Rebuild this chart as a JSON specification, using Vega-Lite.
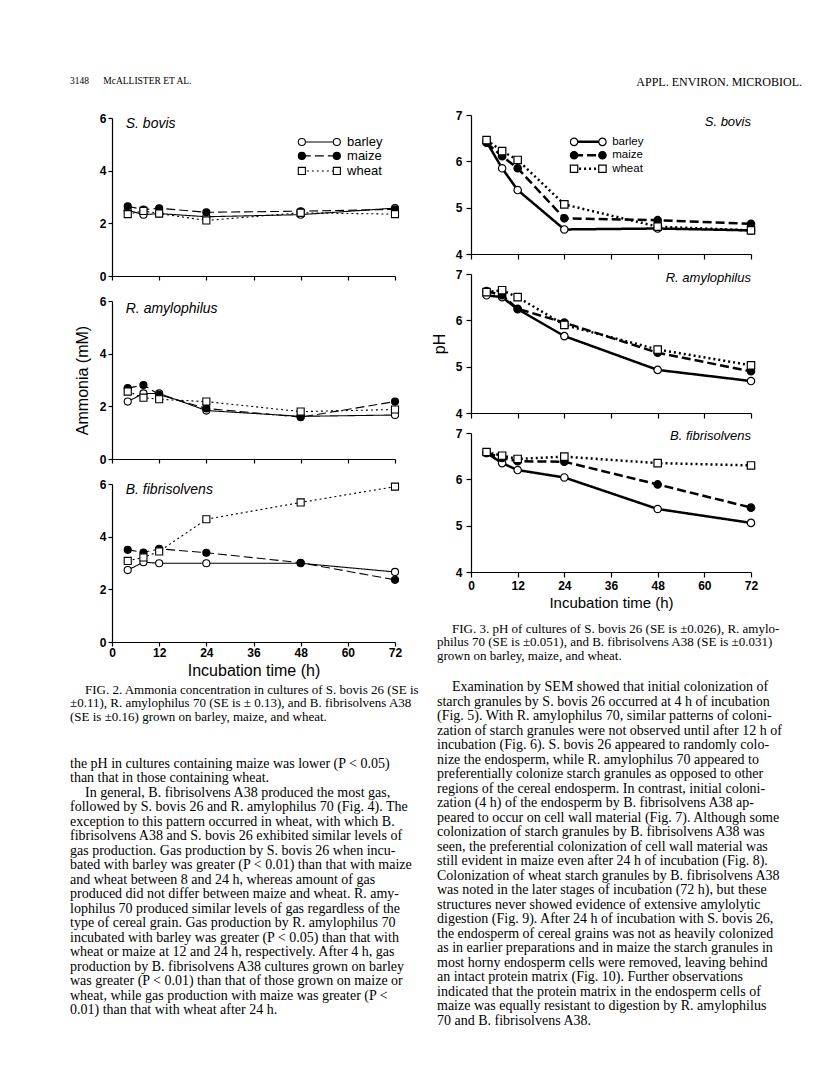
{
  "$schema": "https://vega.github.io/schema/vega-lite/v6.json",
  "background": "white",
  "padding": {"left": 70, "top": 68, "right": 5, "bottom": 5},
  "datasets": {
    "fig2": [
      {"org": "S. bovis", "grain": "barley", "time": 4, "v": 2.50},
      {"org": "S. bovis", "grain": "barley", "time": 8, "v": 2.33},
      {"org": "S. bovis", "grain": "barley", "time": 12, "v": 2.37},
      {"org": "S. bovis", "grain": "barley", "time": 24, "v": 2.25},
      {"org": "S. bovis", "grain": "barley", "time": 48, "v": 2.33},
      {"org": "S. bovis", "grain": "barley", "time": 72, "v": 2.58},
      {"org": "S. bovis", "grain": "maize", "time": 4, "v": 2.65},
      {"org": "S. bovis", "grain": "maize", "time": 8, "v": 2.52},
      {"org": "S. bovis", "grain": "maize", "time": 12, "v": 2.57},
      {"org": "S. bovis", "grain": "maize", "time": 24, "v": 2.42},
      {"org": "S. bovis", "grain": "maize", "time": 48, "v": 2.46},
      {"org": "S. bovis", "grain": "maize", "time": 72, "v": 2.53},
      {"org": "S. bovis", "grain": "wheat", "time": 4, "v": 2.35},
      {"org": "S. bovis", "grain": "wheat", "time": 8, "v": 2.47},
      {"org": "S. bovis", "grain": "wheat", "time": 12, "v": 2.37},
      {"org": "S. bovis", "grain": "wheat", "time": 24, "v": 2.11},
      {"org": "S. bovis", "grain": "wheat", "time": 48, "v": 2.40},
      {"org": "S. bovis", "grain": "wheat", "time": 72, "v": 2.35},
      {"org": "R. amylophilus", "grain": "barley", "time": 4, "v": 2.18},
      {"org": "R. amylophilus", "grain": "barley", "time": 8, "v": 2.49},
      {"org": "R. amylophilus", "grain": "barley", "time": 12, "v": 2.49},
      {"org": "R. amylophilus", "grain": "barley", "time": 24, "v": 1.84},
      {"org": "R. amylophilus", "grain": "barley", "time": 48, "v": 1.62},
      {"org": "R. amylophilus", "grain": "barley", "time": 72, "v": 1.67},
      {"org": "R. amylophilus", "grain": "maize", "time": 4, "v": 2.69},
      {"org": "R. amylophilus", "grain": "maize", "time": 8, "v": 2.81},
      {"org": "R. amylophilus", "grain": "maize", "time": 12, "v": 2.44},
      {"org": "R. amylophilus", "grain": "maize", "time": 24, "v": 1.92},
      {"org": "R. amylophilus", "grain": "maize", "time": 48, "v": 1.59},
      {"org": "R. amylophilus", "grain": "maize", "time": 72, "v": 2.18},
      {"org": "R. amylophilus", "grain": "wheat", "time": 4, "v": 2.56},
      {"org": "R. amylophilus", "grain": "wheat", "time": 8, "v": 2.33},
      {"org": "R. amylophilus", "grain": "wheat", "time": 12, "v": 2.27},
      {"org": "R. amylophilus", "grain": "wheat", "time": 24, "v": 2.18},
      {"org": "R. amylophilus", "grain": "wheat", "time": 48, "v": 1.80},
      {"org": "R. amylophilus", "grain": "wheat", "time": 72, "v": 1.88},
      {"org": "B. fibrisolvens", "grain": "barley", "time": 4, "v": 2.73},
      {"org": "B. fibrisolvens", "grain": "barley", "time": 8, "v": 3.03},
      {"org": "B. fibrisolvens", "grain": "barley", "time": 12, "v": 2.99},
      {"org": "B. fibrisolvens", "grain": "barley", "time": 24, "v": 2.99},
      {"org": "B. fibrisolvens", "grain": "barley", "time": 48, "v": 2.99},
      {"org": "B. fibrisolvens", "grain": "barley", "time": 72, "v": 2.66},
      {"org": "B. fibrisolvens", "grain": "maize", "time": 4, "v": 3.50},
      {"org": "B. fibrisolvens", "grain": "maize", "time": 8, "v": 3.40},
      {"org": "B. fibrisolvens", "grain": "maize", "time": 12, "v": 3.54},
      {"org": "B. fibrisolvens", "grain": "maize", "time": 24, "v": 3.39},
      {"org": "B. fibrisolvens", "grain": "maize", "time": 48, "v": 3.01},
      {"org": "B. fibrisolvens", "grain": "maize", "time": 72, "v": 2.36},
      {"org": "B. fibrisolvens", "grain": "wheat", "time": 4, "v": 3.08},
      {"org": "B. fibrisolvens", "grain": "wheat", "time": 8, "v": 3.21},
      {"org": "B. fibrisolvens", "grain": "wheat", "time": 12, "v": 3.44},
      {"org": "B. fibrisolvens", "grain": "wheat", "time": 24, "v": 4.66},
      {"org": "B. fibrisolvens", "grain": "wheat", "time": 48, "v": 5.30},
      {"org": "B. fibrisolvens", "grain": "wheat", "time": 72, "v": 5.90}
    ],
    "fig3": [
      {"org": "S. bovis", "grain": "barley", "time": 4, "v": 6.42},
      {"org": "S. bovis", "grain": "barley", "time": 8, "v": 5.85},
      {"org": "S. bovis", "grain": "barley", "time": 12, "v": 5.38},
      {"org": "S. bovis", "grain": "barley", "time": 24, "v": 4.53},
      {"org": "S. bovis", "grain": "barley", "time": 48, "v": 4.55},
      {"org": "S. bovis", "grain": "barley", "time": 72, "v": 4.51},
      {"org": "S. bovis", "grain": "maize", "time": 4, "v": 6.40},
      {"org": "S. bovis", "grain": "maize", "time": 8, "v": 6.11},
      {"org": "S. bovis", "grain": "maize", "time": 12, "v": 5.85},
      {"org": "S. bovis", "grain": "maize", "time": 24, "v": 4.77},
      {"org": "S. bovis", "grain": "maize", "time": 48, "v": 4.73},
      {"org": "S. bovis", "grain": "maize", "time": 72, "v": 4.65},
      {"org": "S. bovis", "grain": "wheat", "time": 4, "v": 6.46},
      {"org": "S. bovis", "grain": "wheat", "time": 8, "v": 6.22},
      {"org": "S. bovis", "grain": "wheat", "time": 12, "v": 6.03},
      {"org": "S. bovis", "grain": "wheat", "time": 24, "v": 5.07},
      {"org": "S. bovis", "grain": "wheat", "time": 48, "v": 4.59},
      {"org": "S. bovis", "grain": "wheat", "time": 72, "v": 4.51},
      {"org": "R. amylophilus", "grain": "barley", "time": 4, "v": 6.54},
      {"org": "R. amylophilus", "grain": "barley", "time": 8, "v": 6.50},
      {"org": "R. amylophilus", "grain": "barley", "time": 12, "v": 6.24},
      {"org": "R. amylophilus", "grain": "barley", "time": 24, "v": 5.66},
      {"org": "R. amylophilus", "grain": "barley", "time": 48, "v": 4.93},
      {"org": "R. amylophilus", "grain": "barley", "time": 72, "v": 4.69},
      {"org": "R. amylophilus", "grain": "maize", "time": 4, "v": 6.63},
      {"org": "R. amylophilus", "grain": "maize", "time": 8, "v": 6.54},
      {"org": "R. amylophilus", "grain": "maize", "time": 12, "v": 6.25},
      {"org": "R. amylophilus", "grain": "maize", "time": 24, "v": 5.95},
      {"org": "R. amylophilus", "grain": "maize", "time": 48, "v": 5.30},
      {"org": "R. amylophilus", "grain": "maize", "time": 72, "v": 4.90},
      {"org": "R. amylophilus", "grain": "wheat", "time": 4, "v": 6.61},
      {"org": "R. amylophilus", "grain": "wheat", "time": 8, "v": 6.65},
      {"org": "R. amylophilus", "grain": "wheat", "time": 12, "v": 6.50},
      {"org": "R. amylophilus", "grain": "wheat", "time": 24, "v": 5.90},
      {"org": "R. amylophilus", "grain": "wheat", "time": 48, "v": 5.37},
      {"org": "R. amylophilus", "grain": "wheat", "time": 72, "v": 5.03},
      {"org": "B. fibrisolvens", "grain": "barley", "time": 4, "v": 6.57},
      {"org": "B. fibrisolvens", "grain": "barley", "time": 8, "v": 6.35},
      {"org": "B. fibrisolvens", "grain": "barley", "time": 12, "v": 6.20},
      {"org": "B. fibrisolvens", "grain": "barley", "time": 24, "v": 6.04},
      {"org": "B. fibrisolvens", "grain": "barley", "time": 48, "v": 5.36},
      {"org": "B. fibrisolvens", "grain": "barley", "time": 72, "v": 5.06},
      {"org": "B. fibrisolvens", "grain": "maize", "time": 4, "v": 6.57},
      {"org": "B. fibrisolvens", "grain": "maize", "time": 8, "v": 6.46},
      {"org": "B. fibrisolvens", "grain": "maize", "time": 12, "v": 6.39},
      {"org": "B. fibrisolvens", "grain": "maize", "time": 24, "v": 6.38},
      {"org": "B. fibrisolvens", "grain": "maize", "time": 48, "v": 5.89},
      {"org": "B. fibrisolvens", "grain": "maize", "time": 72, "v": 5.39},
      {"org": "B. fibrisolvens", "grain": "wheat", "time": 4, "v": 6.59},
      {"org": "B. fibrisolvens", "grain": "wheat", "time": 8, "v": 6.51},
      {"org": "B. fibrisolvens", "grain": "wheat", "time": 12, "v": 6.44},
      {"org": "B. fibrisolvens", "grain": "wheat", "time": 24, "v": 6.49},
      {"org": "B. fibrisolvens", "grain": "wheat", "time": 48, "v": 6.35},
      {"org": "B. fibrisolvens", "grain": "wheat", "time": 72, "v": 6.30}
    ]
  },
  "spacing": 3,
  "hconcat": [
    {
      "bounds": "flush",
      "spacing": 25,
      "vconcat": [
        {
          "width": 316, "height": 25,
          "data": {"values": [{"t": "3148\u00a0\u00a0\u00a0\u00a0\u00a0\u00a0McALLISTER ET AL."}]},
          "mark": {"type": "text", "align": "left", "baseline": "middle", "dx": -42, "font": "Liberation Serif", "fontSize": 9.5, "color": "black"},
          "encoding": {
            "x": {"datum": 0, "type": "quantitative", "scale": {"domain": [0, 1]}, "axis": null},
            "y": {"datum": 0.5, "type": "quantitative", "scale": {"domain": [0, 1]}, "axis": null},
            "text": {"field": "t"}
          }
        },
        {
          "width": 283, "height": 158,
          "layer": [
            {
              "data": {"name": "fig2"},
              "transform": [{"filter": "datum.org === 'S. bovis'"}],
              "layer": [
                {"mark": {"type": "line", "color": "black", "strokeWidth": 1.1},
                 "encoding": {
                   "x": {"field": "time", "type": "quantitative", "scale": {"domain": [0, 72], "nice": false}, "axis": {"values": [0, 12, 24, 36, 48, 60, 72], "labels": false, "title": null}},
                   "y": {"field": "v", "type": "quantitative", "scale": {"domain": [0, 6], "nice": false}, "axis": {"values": [0, 2, 4, 6], "title": null, "labelPadding": 2}},
                   "strokeDash": {"field": "grain", "type": "nominal", "scale": {"domain": ["barley", "maize", "wheat"], "range": [[1, 0], [9, 4], [2, 3]]}}
                 }},
                {"mark": {"type": "point", "filled": true, "stroke": "black", "strokeWidth": 1.1, "size": 50, "opacity": 1},
                 "encoding": {
                   "x": {"field": "time", "type": "quantitative"},
                   "y": {"field": "v", "type": "quantitative"},
                   "shape": {"field": "grain", "type": "nominal", "scale": {"domain": ["barley", "maize", "wheat"], "range": ["circle", "circle", "square"]}},
                   "fill": {"field": "grain", "type": "nominal", "scale": {"domain": ["barley", "maize", "wheat"], "range": ["white", "black", "white"]}}
                 }}
              ]
            },
            {"data": {"values": [{"t": "S. bovis"}]},
             "mark": {"type": "text", "align": "left", "baseline": "middle", "fontStyle": "italic", "font": "Liberation Sans", "fontSize": 14, "color": "black"},
             "encoding": {"x": {"datum": 3.5}, "y": {"datum": 5.77}, "text": {"field": "t"}}},
            {"data": {"values": [{"grain": "barley"}]},
             "layer": [
               {"mark": {"type": "rule", "color": "black", "strokeWidth": 1.1}, "encoding": {"x": {"datum": 48.3}, "x2": {"datum": 57.2}, "y": {"datum": 5.09}, "strokeDash": {"field": "grain", "type": "nominal"}}},
               {"mark": {"type": "point", "filled": true, "stroke": "black", "strokeWidth": 1.1, "size": 50, "opacity": 1}, "encoding": {"x": {"datum": 48.3}, "y": {"datum": 5.09}, "shape": {"field": "grain", "type": "nominal"}, "fill": {"field": "grain", "type": "nominal"}}},
               {"mark": {"type": "point", "filled": true, "stroke": "black", "strokeWidth": 1.1, "size": 50, "opacity": 1}, "encoding": {"x": {"datum": 57.2}, "y": {"datum": 5.09}, "shape": {"field": "grain", "type": "nominal"}, "fill": {"field": "grain", "type": "nominal"}}},
               {"mark": {"type": "text", "align": "left", "baseline": "middle", "font": "Liberation Sans", "fontSize": 13, "color": "black"}, "encoding": {"x": {"datum": 59.8}, "y": {"datum": 5.09}, "text": {"field": "grain"}}}
             ]},
            {"data": {"values": [{"grain": "maize"}]},
             "layer": [
               {"mark": {"type": "rule", "color": "black", "strokeWidth": 1.1}, "encoding": {"x": {"datum": 48.3}, "x2": {"datum": 57.2}, "y": {"datum": 4.56}, "strokeDash": {"field": "grain", "type": "nominal"}}},
               {"mark": {"type": "point", "filled": true, "stroke": "black", "strokeWidth": 1.1, "size": 50, "opacity": 1}, "encoding": {"x": {"datum": 48.3}, "y": {"datum": 4.56}, "shape": {"field": "grain", "type": "nominal"}, "fill": {"field": "grain", "type": "nominal"}}},
               {"mark": {"type": "point", "filled": true, "stroke": "black", "strokeWidth": 1.1, "size": 50, "opacity": 1}, "encoding": {"x": {"datum": 57.2}, "y": {"datum": 4.56}, "shape": {"field": "grain", "type": "nominal"}, "fill": {"field": "grain", "type": "nominal"}}},
               {"mark": {"type": "text", "align": "left", "baseline": "middle", "font": "Liberation Sans", "fontSize": 13, "color": "black"}, "encoding": {"x": {"datum": 59.8}, "y": {"datum": 4.56}, "text": {"field": "grain"}}}
             ]},
            {"data": {"values": [{"grain": "wheat"}]},
             "layer": [
               {"mark": {"type": "rule", "color": "black", "strokeWidth": 1.1}, "encoding": {"x": {"datum": 48.3}, "x2": {"datum": 57.2}, "y": {"datum": 3.99}, "strokeDash": {"field": "grain", "type": "nominal"}}},
               {"mark": {"type": "point", "filled": true, "stroke": "black", "strokeWidth": 1.1, "size": 50, "opacity": 1}, "encoding": {"x": {"datum": 48.3}, "y": {"datum": 3.99}, "shape": {"field": "grain", "type": "nominal"}, "fill": {"field": "grain", "type": "nominal"}}},
               {"mark": {"type": "point", "filled": true, "stroke": "black", "strokeWidth": 1.1, "size": 50, "opacity": 1}, "encoding": {"x": {"datum": 57.2}, "y": {"datum": 3.99}, "shape": {"field": "grain", "type": "nominal"}, "fill": {"field": "grain", "type": "nominal"}}},
               {"mark": {"type": "text", "align": "left", "baseline": "middle", "font": "Liberation Sans", "fontSize": 13, "color": "black"}, "encoding": {"x": {"datum": 59.8}, "y": {"datum": 3.99}, "text": {"field": "grain"}}}
             ]}
          ]
        },
        {
          "width": 283, "height": 158,
          "layer": [
            {
              "data": {"name": "fig2"},
              "transform": [{"filter": "datum.org === 'R. amylophilus'"}],
              "layer": [
                {"mark": {"type": "line", "color": "black", "strokeWidth": 1.1},
                 "encoding": {
                   "x": {"field": "time", "type": "quantitative", "scale": {"domain": [0, 72], "nice": false}, "axis": {"values": [0, 12, 24, 36, 48, 60, 72], "labels": false, "title": null}},
                   "y": {"field": "v", "type": "quantitative", "scale": {"domain": [0, 6], "nice": false}, "axis": {"values": [0, 2, 4, 6], "title": "Ammonia (mM)", "labelPadding": 2, "titlePadding": 9}},
                   "strokeDash": {"field": "grain", "type": "nominal", "scale": {"domain": ["barley", "maize", "wheat"], "range": [[1, 0], [9, 4], [2, 3]]}}
                 }},
                {"mark": {"type": "point", "filled": true, "stroke": "black", "strokeWidth": 1.1, "size": 50, "opacity": 1},
                 "encoding": {
                   "x": {"field": "time", "type": "quantitative"},
                   "y": {"field": "v", "type": "quantitative"},
                   "shape": {"field": "grain", "type": "nominal", "scale": {"domain": ["barley", "maize", "wheat"], "range": ["circle", "circle", "square"]}},
                   "fill": {"field": "grain", "type": "nominal", "scale": {"domain": ["barley", "maize", "wheat"], "range": ["white", "black", "white"]}}
                 }}
              ]
            },
            {"data": {"values": [{"t": "R. amylophilus"}]},
             "mark": {"type": "text", "align": "left", "baseline": "middle", "fontStyle": "italic", "font": "Liberation Sans", "fontSize": 14, "color": "black"},
             "encoding": {"x": {"datum": 3.5}, "y": {"datum": 5.7}, "text": {"field": "t"}}}
          ]
        },
        {
          "width": 283, "height": 158,
          "layer": [
            {
              "data": {"name": "fig2"},
              "transform": [{"filter": "datum.org === 'B. fibrisolvens'"}],
              "layer": [
                {"mark": {"type": "line", "color": "black", "strokeWidth": 1.1},
                 "encoding": {
                   "x": {"field": "time", "type": "quantitative", "scale": {"domain": [0, 72], "nice": false}, "axis": {"values": [0, 12, 24, 36, 48, 60, 72], "title": "Incubation time (h)", "labelPadding": 1, "titlePadding": 4}},
                   "y": {"field": "v", "type": "quantitative", "scale": {"domain": [0, 6], "nice": false}, "axis": {"values": [0, 2, 4, 6], "title": null, "labelPadding": 2}},
                   "strokeDash": {"field": "grain", "type": "nominal", "scale": {"domain": ["barley", "maize", "wheat"], "range": [[1, 0], [9, 4], [2, 3]]}}
                 }},
                {"mark": {"type": "point", "filled": true, "stroke": "black", "strokeWidth": 1.1, "size": 50, "opacity": 1},
                 "encoding": {
                   "x": {"field": "time", "type": "quantitative"},
                   "y": {"field": "v", "type": "quantitative"},
                   "shape": {"field": "grain", "type": "nominal", "scale": {"domain": ["barley", "maize", "wheat"], "range": ["circle", "circle", "square"]}},
                   "fill": {"field": "grain", "type": "nominal", "scale": {"domain": ["barley", "maize", "wheat"], "range": ["white", "black", "white"]}}
                 }}
              ]
            },
            {"data": {"values": [{"t": "B. fibrisolvens"}]},
             "mark": {"type": "text", "align": "left", "baseline": "middle", "fontStyle": "italic", "font": "Liberation Sans", "fontSize": 14, "color": "black"},
             "encoding": {"x": {"datum": 3.5}, "y": {"datum": 5.77}, "text": {"field": "t"}}}
          ]
        },
        {
          "width": 316, "height": 72,
          "data": {"values": [
            {"line": 1, "first": true, "t": "FIG. 2. Ammonia concentration in cultures of S. bovis 26 (SE is"},
            {"line": 2, "t": "\u00b10.11), R. amylophilus 70 (SE is \u00b1 0.13), and B. fibrisolvens A38"},
            {"line": 3, "t": "(SE is \u00b10.16) grown on barley, maize, and wheat."}
          ]},
          "encoding": {
            "x": {"datum": 0, "type": "quantitative", "scale": {"domain": [0, 1]}, "axis": null},
            "y": {"field": "line", "type": "quantitative", "scale": {"domain": [-0.729, 4.685], "reverse": true, "zero": false, "nice": false}, "axis": null},
            "text": {"field": "t"}
          },
          "layer": [
            {"transform": [{"filter": "!datum.first"}], "mark": {"type": "text", "align": "left", "baseline": "middle", "dx": -42, "font": "Liberation Serif", "fontSize": 13, "color": "black"}},
            {"transform": [{"filter": "datum.first"}], "mark": {"type": "text", "align": "left", "baseline": "middle", "dx": -27, "font": "Liberation Serif", "fontSize": 13, "color": "black"}}
          ]
        },
        {
          "width": 316, "height": 246,
          "data": {"values": [
            {"line": 1, "t": "the pH in cultures containing maize was lower (P < 0.05)"},
            {"line": 2, "t": "than that in those containing wheat."},
            {"line": 3, "first": true, "t": "In general, B. fibrisolvens A38 produced the most gas,"},
            {"line": 4, "t": "followed by S. bovis 26 and R. amylophilus 70 (Fig. 4). The"},
            {"line": 5, "t": "exception to this pattern occurred in wheat, with which B."},
            {"line": 6, "t": "fibrisolvens A38 and S. bovis 26 exhibited similar levels of"},
            {"line": 7, "t": "gas production. Gas production by S. bovis 26 when incu-"},
            {"line": 8, "t": "bated with barley was greater (P < 0.01) than that with maize"},
            {"line": 9, "t": "and wheat between 8 and 24 h, whereas amount of gas"},
            {"line": 10, "t": "produced did not differ between maize and wheat. R. amy-"},
            {"line": 11, "t": "lophilus 70 produced similar levels of gas regardless of the"},
            {"line": 12, "t": "type of cereal grain. Gas production by R. amylophilus 70"},
            {"line": 13, "t": "incubated with barley was greater (P < 0.05) than that with"},
            {"line": 14, "t": "wheat or maize at 12 and 24 h, respectively. After 4 h, gas"},
            {"line": 15, "t": "production by B. fibrisolvens A38 cultures grown on barley"},
            {"line": 16, "t": "was greater (P < 0.01) than that of those grown on maize or"},
            {"line": 17, "t": "wheat, while gas production with maize was greater (P <"},
            {"line": 18, "t": "0.01) than that with wheat after 24 h."}
          ]},
          "encoding": {
            "x": {"datum": 0, "type": "quantitative", "scale": {"domain": [0, 1]}, "axis": null},
            "y": {"field": "line", "type": "quantitative", "scale": {"domain": [1, 18], "reverse": true, "zero": false, "nice": false}, "axis": null},
            "text": {"field": "t"}
          },
          "layer": [
            {"transform": [{"filter": "!datum.first"}], "mark": {"type": "text", "align": "left", "baseline": "middle", "dx": -42, "font": "Liberation Serif", "fontSize": 14, "color": "black"}},
            {"transform": [{"filter": "datum.first"}], "mark": {"type": "text", "align": "left", "baseline": "middle", "dx": -27, "font": "Liberation Serif", "fontSize": 14, "color": "black"}}
          ]
        }
      ]
    },
    {
      "bounds": "flush",
      "spacing": 20,
      "vconcat": [
        {
          "width": 331, "height": 27,
          "data": {"values": [{"t": "APPL. ENVIRON. MICROBIOL."}]},
          "mark": {"type": "text", "align": "right", "baseline": "middle", "font": "Liberation Serif", "fontSize": 12, "color": "black"},
          "encoding": {
            "x": {"datum": 1, "type": "quantitative", "scale": {"domain": [0, 1]}, "axis": null},
            "y": {"datum": 0.5, "type": "quantitative", "scale": {"domain": [0, 1]}, "axis": null},
            "text": {"field": "t"}
          }
        },
        {
          "width": 280, "height": 139,
          "layer": [
            {
              "data": {"name": "fig3"},
              "transform": [{"filter": "datum.org === 'S. bovis'"}],
              "layer": [
                {"mark": {"type": "line", "color": "black", "strokeWidth": 2.5},
                 "encoding": {
                   "x": {"field": "time", "type": "quantitative", "scale": {"domain": [0, 72], "nice": false}, "axis": {"values": [0, 12, 24, 36, 48, 60, 72], "labels": false, "title": null, "tickSize": 5}},
                   "y": {"field": "v", "type": "quantitative", "scale": {"domain": [4, 7], "nice": false}, "axis": {"values": [4, 5, 6, 7], "title": null, "tickSize": 5, "labelPadding": 4}},
                   "strokeDash": {"field": "grain", "type": "nominal", "scale": {"domain": ["barley", "maize", "wheat"], "range": [[1, 0], [9, 4], [2, 3]]}}
                 }},
                {"mark": {"type": "point", "filled": true, "stroke": "black", "strokeWidth": 1.2, "size": 55, "opacity": 1},
                 "encoding": {
                   "x": {"field": "time", "type": "quantitative"},
                   "y": {"field": "v", "type": "quantitative"},
                   "shape": {"field": "grain", "type": "nominal", "scale": {"domain": ["barley", "maize", "wheat"], "range": ["circle", "circle", "square"]}},
                   "fill": {"field": "grain", "type": "nominal", "scale": {"domain": ["barley", "maize", "wheat"], "range": ["white", "black", "white"]}}
                 }}
              ]
            },
            {"data": {"values": [{"t": "S. bovis"}]},
             "mark": {"type": "text", "align": "right", "baseline": "middle", "fontStyle": "italic", "font": "Liberation Sans", "fontSize": 13, "color": "black"},
             "encoding": {"x": {"datum": 72}, "y": {"datum": 6.85}, "text": {"field": "t"}}},
            {"data": {"values": [{"grain": "barley"}]},
             "layer": [
               {"mark": {"type": "rule", "color": "black", "strokeWidth": 2.5}, "encoding": {"x": {"datum": 26.5}, "x2": {"datum": 33.8}, "y": {"datum": 6.42}, "strokeDash": {"field": "grain", "type": "nominal"}}},
               {"mark": {"type": "point", "filled": true, "stroke": "black", "strokeWidth": 1.2, "size": 55, "opacity": 1}, "encoding": {"x": {"datum": 26.5}, "y": {"datum": 6.42}, "shape": {"field": "grain", "type": "nominal"}, "fill": {"field": "grain", "type": "nominal"}}},
               {"mark": {"type": "point", "filled": true, "stroke": "black", "strokeWidth": 1.2, "size": 55, "opacity": 1}, "encoding": {"x": {"datum": 33.8}, "y": {"datum": 6.42}, "shape": {"field": "grain", "type": "nominal"}, "fill": {"field": "grain", "type": "nominal"}}},
               {"mark": {"type": "text", "align": "left", "baseline": "middle", "font": "Liberation Sans", "fontSize": 11.5, "color": "black"}, "encoding": {"x": {"datum": 36.3}, "y": {"datum": 6.42}, "text": {"field": "grain"}}}
             ]},
            {"data": {"values": [{"grain": "maize"}]},
             "layer": [
               {"mark": {"type": "rule", "color": "black", "strokeWidth": 2.5}, "encoding": {"x": {"datum": 26.5}, "x2": {"datum": 33.8}, "y": {"datum": 6.13}, "strokeDash": {"field": "grain", "type": "nominal"}}},
               {"mark": {"type": "point", "filled": true, "stroke": "black", "strokeWidth": 1.2, "size": 55, "opacity": 1}, "encoding": {"x": {"datum": 26.5}, "y": {"datum": 6.13}, "shape": {"field": "grain", "type": "nominal"}, "fill": {"field": "grain", "type": "nominal"}}},
               {"mark": {"type": "point", "filled": true, "stroke": "black", "strokeWidth": 1.2, "size": 55, "opacity": 1}, "encoding": {"x": {"datum": 33.8}, "y": {"datum": 6.13}, "shape": {"field": "grain", "type": "nominal"}, "fill": {"field": "grain", "type": "nominal"}}},
               {"mark": {"type": "text", "align": "left", "baseline": "middle", "font": "Liberation Sans", "fontSize": 11.5, "color": "black"}, "encoding": {"x": {"datum": 36.3}, "y": {"datum": 6.13}, "text": {"field": "grain"}}}
             ]},
            {"data": {"values": [{"grain": "wheat"}]},
             "layer": [
               {"mark": {"type": "rule", "color": "black", "strokeWidth": 2.5}, "encoding": {"x": {"datum": 26.5}, "x2": {"datum": 33.8}, "y": {"datum": 5.84}, "strokeDash": {"field": "grain", "type": "nominal"}}},
               {"mark": {"type": "point", "filled": true, "stroke": "black", "strokeWidth": 1.2, "size": 55, "opacity": 1}, "encoding": {"x": {"datum": 26.5}, "y": {"datum": 5.84}, "shape": {"field": "grain", "type": "nominal"}, "fill": {"field": "grain", "type": "nominal"}}},
               {"mark": {"type": "point", "filled": true, "stroke": "black", "strokeWidth": 1.2, "size": 55, "opacity": 1}, "encoding": {"x": {"datum": 33.8}, "y": {"datum": 5.84}, "shape": {"field": "grain", "type": "nominal"}, "fill": {"field": "grain", "type": "nominal"}}},
               {"mark": {"type": "text", "align": "left", "baseline": "middle", "font": "Liberation Sans", "fontSize": 11.5, "color": "black"}, "encoding": {"x": {"datum": 36.3}, "y": {"datum": 5.84}, "text": {"field": "grain"}}}
             ]}
          ]
        },
        {
          "width": 280, "height": 139,
          "layer": [
            {
              "data": {"name": "fig3"},
              "transform": [{"filter": "datum.org === 'R. amylophilus'"}],
              "layer": [
                {"mark": {"type": "line", "color": "black", "strokeWidth": 2.5},
                 "encoding": {
                   "x": {"field": "time", "type": "quantitative", "scale": {"domain": [0, 72], "nice": false}, "axis": {"values": [0, 12, 24, 36, 48, 60, 72], "labels": false, "title": null, "tickSize": 5}},
                   "y": {"field": "v", "type": "quantitative", "scale": {"domain": [4, 7], "nice": false}, "axis": {"values": [4, 5, 6, 7], "title": "pH", "tickSize": 5, "labelPadding": 4, "titlePadding": 8}},
                   "strokeDash": {"field": "grain", "type": "nominal", "scale": {"domain": ["barley", "maize", "wheat"], "range": [[1, 0], [9, 4], [2, 3]]}}
                 }},
                {"mark": {"type": "point", "filled": true, "stroke": "black", "strokeWidth": 1.2, "size": 55, "opacity": 1},
                 "encoding": {
                   "x": {"field": "time", "type": "quantitative"},
                   "y": {"field": "v", "type": "quantitative"},
                   "shape": {"field": "grain", "type": "nominal", "scale": {"domain": ["barley", "maize", "wheat"], "range": ["circle", "circle", "square"]}},
                   "fill": {"field": "grain", "type": "nominal", "scale": {"domain": ["barley", "maize", "wheat"], "range": ["white", "black", "white"]}}
                 }}
              ]
            },
            {"data": {"values": [{"t": "R. amylophilus"}]},
             "mark": {"type": "text", "align": "right", "baseline": "middle", "fontStyle": "italic", "font": "Liberation Sans", "fontSize": 13, "color": "black"},
             "encoding": {"x": {"datum": 72}, "y": {"datum": 6.92}, "text": {"field": "t"}}}
          ]
        },
        {
          "width": 280, "height": 139,
          "layer": [
            {
              "data": {"name": "fig3"},
              "transform": [{"filter": "datum.org === 'B. fibrisolvens'"}],
              "layer": [
                {"mark": {"type": "line", "color": "black", "strokeWidth": 2.5},
                 "encoding": {
                   "x": {"field": "time", "type": "quantitative", "scale": {"domain": [0, 72], "nice": false}, "axis": {"values": [0, 12, 24, 36, 48, 60, 72], "title": "Incubation time (h)", "tickSize": 5, "labelPadding": 3, "titlePadding": 4, "titleFontSize": 15}},
                   "y": {"field": "v", "type": "quantitative", "scale": {"domain": [4, 7], "nice": false}, "axis": {"values": [4, 5, 6, 7], "title": null, "tickSize": 5, "labelPadding": 4}},
                   "strokeDash": {"field": "grain", "type": "nominal", "scale": {"domain": ["barley", "maize", "wheat"], "range": [[1, 0], [9, 4], [2, 3]]}}
                 }},
                {"mark": {"type": "point", "filled": true, "stroke": "black", "strokeWidth": 1.2, "size": 55, "opacity": 1},
                 "encoding": {
                   "x": {"field": "time", "type": "quantitative"},
                   "y": {"field": "v", "type": "quantitative"},
                   "shape": {"field": "grain", "type": "nominal", "scale": {"domain": ["barley", "maize", "wheat"], "range": ["circle", "circle", "square"]}},
                   "fill": {"field": "grain", "type": "nominal", "scale": {"domain": ["barley", "maize", "wheat"], "range": ["white", "black", "white"]}}
                 }}
              ]
            },
            {"data": {"values": [{"t": "B. fibrisolvens"}]},
             "mark": {"type": "text", "align": "right", "baseline": "middle", "fontStyle": "italic", "font": "Liberation Sans", "fontSize": 13, "color": "black"},
             "encoding": {"x": {"datum": 72}, "y": {"datum": 6.93}, "text": {"field": "t"}}}
          ]
        },
        {
          "width": 331, "height": 75,
          "data": {"values": [
            {"line": 1, "first": true, "t": "FIG. 3. pH of cultures of S. bovis 26 (SE is \u00b10.026), R. amylo-"},
            {"line": 2, "t": "philus 70 (SE is \u00b10.051), and B. fibrisolvens A38 (SE is \u00b10.031)"},
            {"line": 3, "t": "grown on barley, maize, and wheat."}
          ]},
          "encoding": {
            "x": {"datum": 0, "type": "quantitative", "scale": {"domain": [0, 1]}, "axis": null},
            "y": {"field": "line", "type": "quantitative", "scale": {"domain": [-1.782, 3.857], "reverse": true, "zero": false, "nice": false}, "axis": null},
            "text": {"field": "t"}
          },
          "layer": [
            {"transform": [{"filter": "!datum.first"}], "mark": {"type": "text", "align": "left", "baseline": "middle", "dx": -34, "font": "Liberation Serif", "fontSize": 13, "color": "black"}},
            {"transform": [{"filter": "datum.first"}], "mark": {"type": "text", "align": "left", "baseline": "middle", "dx": -19, "font": "Liberation Serif", "fontSize": 13, "color": "black"}}
          ]
        },
        {
          "width": 331, "height": 333.5,
          "data": {"values": [
            {"line": 1, "first": true, "t": "Examination by SEM showed that initial colonization of"},
            {"line": 2, "t": "starch granules by S. bovis 26 occurred at 4 h of incubation"},
            {"line": 3, "t": "(Fig. 5). With R. amylophilus 70, similar patterns of coloni-"},
            {"line": 4, "t": "zation of starch granules were not observed until after 12 h of"},
            {"line": 5, "t": "incubation (Fig. 6). S. bovis 26 appeared to randomly colo-"},
            {"line": 6, "t": "nize the endosperm, while R. amylophilus 70 appeared to"},
            {"line": 7, "t": "preferentially colonize starch granules as opposed to other"},
            {"line": 8, "t": "regions of the cereal endosperm. In contrast, initial coloni-"},
            {"line": 9, "t": "zation (4 h) of the endosperm by B. fibrisolvens A38 ap-"},
            {"line": 10, "t": "peared to occur on cell wall material (Fig. 7). Although some"},
            {"line": 11, "t": "colonization of starch granules by B. fibrisolvens A38 was"},
            {"line": 12, "t": "seen, the preferential colonization of cell wall material was"},
            {"line": 13, "t": "still evident in maize even after 24 h of incubation (Fig. 8)."},
            {"line": 14, "t": "Colonization of wheat starch granules by B. fibrisolvens A38"},
            {"line": 15, "t": "was noted in the later stages of incubation (72 h), but these"},
            {"line": 16, "t": "structures never showed evidence of extensive amylolytic"},
            {"line": 17, "t": "digestion (Fig. 9). After 24 h of incubation with S. bovis 26,"},
            {"line": 18, "t": "the endosperm of cereal grains was not as heavily colonized"},
            {"line": 19, "t": "as in earlier preparations and in maize the starch granules in"},
            {"line": 20, "t": "most horny endosperm cells were removed, leaving behind"},
            {"line": 21, "t": "an intact protein matrix (Fig. 10). Further observations"},
            {"line": 22, "t": "indicated that the protein matrix in the endosperm cells of"},
            {"line": 23, "t": "maize was equally resistant to digestion by R. amylophilus"},
            {"line": 24, "t": "70 and B. fibrisolvens A38."}
          ]},
          "encoding": {
            "x": {"datum": 0, "type": "quantitative", "scale": {"domain": [0, 1]}, "axis": null},
            "y": {"field": "line", "type": "quantitative", "scale": {"domain": [1, 24], "reverse": true, "zero": false, "nice": false}, "axis": null},
            "text": {"field": "t"}
          },
          "layer": [
            {"transform": [{"filter": "!datum.first"}], "mark": {"type": "text", "align": "left", "baseline": "middle", "dx": -34, "font": "Liberation Serif", "fontSize": 14, "color": "black"}},
            {"transform": [{"filter": "datum.first"}], "mark": {"type": "text", "align": "left", "baseline": "middle", "dx": -19, "font": "Liberation Serif", "fontSize": 14, "color": "black"}}
          ]
        }
      ]
    }
  ],
  "config": {
    "view": {"stroke": null},
    "legend": {"disable": true},
    "axis": {
      "grid": false,
      "domainColor": "black",
      "domainWidth": 1.2,
      "tickColor": "black",
      "tickWidth": 1.2,
      "tickSize": 4,
      "labelColor": "black",
      "labelFont": "Liberation Sans",
      "labelFontSize": 12,
      "labelFontWeight": "bold",
      "labelFlush": false,
      "labelPadding": 2,
      "titleColor": "black",
      "titleFont": "Liberation Sans",
      "titleFontWeight": "normal",
      "titleFontSize": 16
    }
  }
}
